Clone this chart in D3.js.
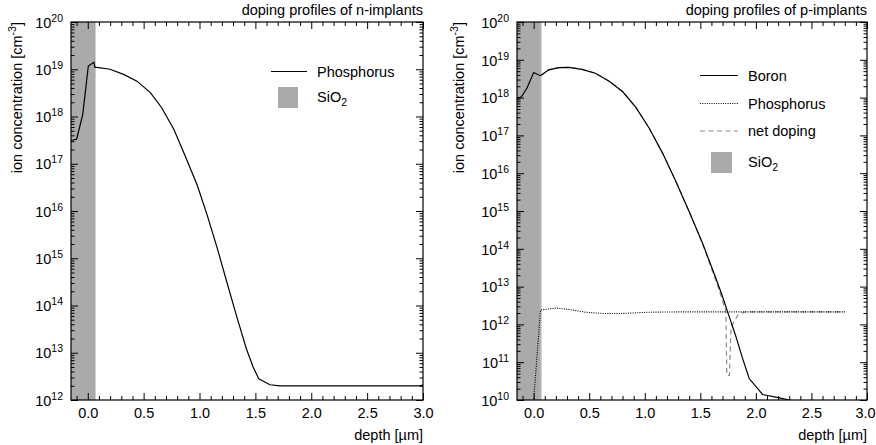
<!DOCTYPE html>
<html><head><meta charset="utf-8">
<script src="https://cdn.jsdelivr.net/npm/d3@7"></script>
<style>
body{margin:0;background:#fff;}
svg text{font-family:"Liberation Sans",Arial,Helvetica,sans-serif;fill:#000;}
</style>
</head><body>
<svg id="c" width="876" height="445"></svg>
<script>
// ---------- data ----------
const xTickValues = [0.0, 0.5, 1.0, 1.5, 2.0, 2.5, 3.0];
const xDomain = [-0.15, 3.0];
const oxideEnd = 0.065;

// n-implant panel
const nYExponents = [12, 13, 14, 15, 16, 17, 18, 19, 20];
const nDepth = [-0.15, -0.10, -0.045, 0.005, 0.055, 0.065, 0.08, 0.20, 0.32, 0.44, 0.56, 0.66, 0.77, 0.87, 0.98, 1.07, 1.16, 1.245, 1.33, 1.42, 1.48, 1.53, 1.63, 1.72, 2.0, 2.5, 2.98, 3.0];
const nPhosphorus = [3.1e17, 3.3e17, 1.1e18, 1.17e19, 1.4e19, 1.1e19, 1.1e19, 1.0e19, 7.8e18, 5.6e18, 3.2e18, 1.55e18, 5.4e17, 1.5e17, 3.5e16, 8e15, 1.6e15, 3.1e14, 6.2e13, 1.2e13, 5e12, 2.8e12, 2.1e12, 2.0e12, 2.0e12, 2.0e12, 2.0e12, 2.1e12];

// p-implant panel
const pYExponents = [10, 11, 12, 13, 14, 15, 16, 17, 18, 19, 20];
const boronDepth = [-0.15, -0.11, -0.06, 0.0, 0.06, 0.135, 0.225, 0.315, 0.435, 0.555, 0.676, 0.80, 0.92, 1.04, 1.16, 1.28, 1.40, 1.52, 1.64, 1.70, 1.76, 1.82, 1.88, 1.94, 2.06, 2.20, 2.30, 2.40];
const boron = [9.5e17, 1.05e18, 1.8e18, 4.6e18, 3.8e18, 5.4e18, 6.2e18, 6.3e18, 5.6e18, 4.4e18, 2.75e18, 1.45e18, 5.5e17, 1.55e17, 3.4e16, 6e15, 9.5e14, 1.4e14, 1.66e13, 5.4e12, 1.6e12, 4.8e11, 1.26e11, 3.7e10, 1.4e10, 1.15e10, 1.0e10, 9.0e9];
const phosDepth = [-0.005, 0.0, 0.062, 0.195, 0.315, 0.465, 0.615, 0.80, 1.04, 1.34, 1.64, 1.94, 2.3, 2.8];
const phosphorus = [7e9, 1.0e10, 2.4e12, 2.7e12, 2.5e12, 2.1e12, 1.95e12, 1.95e12, 2.1e12, 2.15e12, 2.15e12, 2.15e12, 2.15e12, 2.15e12];
const netDepth = [0.065, 0.135, 0.225, 0.315, 0.435, 0.555, 0.676, 0.80, 0.92, 1.04, 1.16, 1.28, 1.40, 1.52, 1.65, 1.73, 1.738, 1.762, 1.776, 1.84, 1.905, 2.3, 2.8];
const netDoping = [3.8e18, 5.4e18, 6.2e18, 6.3e18, 5.6e18, 4.4e18, 2.75e18, 1.45e18, 5.5e17, 1.55e17, 3.4e16, 6e15, 9.5e14, 1.35e14, 1.2e13, 2.2e12, 4.5e10, 4.5e10, 8.5e11, 1.8e12, 2.15e12, 2.15e12, 2.15e12];

// ---------- drawing ----------
const svg = d3.select('#c');
const FS = 14.5, SUP = 10.5;

function zip(a, b) { return a.map((d, i) => [d, b[i]]); }

function panel(o) {
  const g = svg.append('g');
  const x = d3.scaleLinear().domain(xDomain).range([o.left, o.right]);
  const yMin = Math.pow(10, o.exps[0]), yMax = Math.pow(10, o.exps[o.exps.length - 1]);
  const y = d3.scaleLog().domain([yMin, yMax]).range([o.bottom, o.top]);
  const clipId = 'clip' + o.id;
  svg.append('clipPath').attr('id', clipId).append('rect')
    .attr('x', o.left).attr('y', o.top).attr('width', o.right - o.left).attr('height', o.bottom - o.top);

  // oxide
  g.append('rect').attr('x', x(xDomain[0])).attr('y', o.top)
    .attr('width', x(oxideEnd) - x(xDomain[0])).attr('height', o.bottom - o.top)
    .attr('fill', '#aaaaaa');
  g.append('line').attr('x1', x(oxideEnd) + 0.5).attr('x2', x(oxideEnd) + 0.5)
    .attr('y1', o.top).attr('y2', o.bottom).attr('stroke', '#cfcfcf').attr('stroke-width', 1);

  const line = d3.line().x(d => x(d[0])).y(d => y(d[1]));
  const cg = g.append('g').attr('clip-path', `url(#${clipId})`);
  o.series.forEach(s => {
    cg.append('path').attr('d', line(zip(s.x, s.y))).attr('fill', 'none')
      .attr('stroke', s.color).attr('stroke-width', s.width)
      .attr('stroke-dasharray', s.dash || null);
  });

  // axes
  const minorX = d3.range(-1, 31).map(i => i / 10).filter(v => v >= xDomain[0] && Math.abs(v * 2 - Math.round(v * 2)) > 1e-6);
  const minorY = [];
  o.exps.slice(0, -1).forEach(e => { for (let k = 2; k <= 9; k++) minorY.push(k * Math.pow(10, e)); });
  const decades = o.exps.map(e => Math.pow(10, e));

  const ax = g.append('g');
  const fmt = d3.format('.1f');
  const xb = ax.append('g').attr('transform', `translate(0,${o.bottom})`)
    .call(d3.axisBottom(x).tickValues(xTickValues).tickSize(-7).tickPadding(8).tickFormat(fmt));
  ax.append('g').attr('transform', `translate(0,${o.bottom})`)
    .call(d3.axisBottom(x).tickValues(minorX).tickSize(-4).tickFormat(''));
  ax.append('g').attr('transform', `translate(0,${o.top})`)
    .call(d3.axisTop(x).tickValues(xTickValues).tickSize(-7).tickFormat(''));
  ax.append('g').attr('transform', `translate(0,${o.top})`)
    .call(d3.axisTop(x).tickValues(minorX).tickSize(-4).tickFormat(''));
  const yl = ax.append('g').attr('transform', `translate(${o.left},0)`)
    .call(d3.axisLeft(y).tickValues(decades).tickSize(-7).tickPadding(8).tickFormat(''));
  ax.append('g').attr('transform', `translate(${o.left},0)`)
    .call(d3.axisLeft(y).tickValues(minorY).tickSize(-3.5).tickFormat(''));
  ax.append('g').attr('transform', `translate(${o.right},0)`)
    .call(d3.axisRight(y).tickValues(decades).tickSize(-7).tickFormat(''));
  ax.append('g').attr('transform', `translate(${o.right},0)`)
    .call(d3.axisRight(y).tickValues(minorY).tickSize(-3.5).tickFormat(''));
  ax.selectAll('.domain').remove();
  ax.selectAll('.tick line').attr('stroke', '#000').attr('stroke-width', 1);
  xb.selectAll('.tick text').attr('font-size', FS).attr('font-family', null).attr('fill', '#000')
    .attr('dx', d => (d === xDomain[1] && o.right + 11 > 876) ? (876 - o.right - 11) : null);

  // y labels with superscripts
  yl.selectAll('.tick text').each(function (d) {
    const t = d3.select(this).text(null).attr('font-size', FS).attr('font-family', null)
      .attr('fill', '#000').attr('dy', '0.36em').attr('x', -8);
    t.append('tspan').text('10');
    t.append('tspan').attr('font-size', SUP).attr('dy', -6).text(Math.round(Math.log10(d)));
  });

  g.append('rect').attr('x', o.left).attr('y', o.top).attr('width', o.right - o.left)
    .attr('height', o.bottom - o.top).attr('fill', 'none').attr('stroke', '#000').attr('stroke-width', 1.2);

  // titles
  g.append('text').attr('x', o.right).attr('y', 15).attr('text-anchor', 'end')
    .attr('font-size', FS).text(o.title);
  g.append('text').attr('x', o.right).attr('y', 440).attr('text-anchor', 'end')
    .attr('font-size', FS).text('depth [µm]');
  const yt = g.append('text').attr('transform', `translate(${o.yTitleX},${o.top}) rotate(-90)`)
    .attr('text-anchor', 'end').attr('font-size', FS);
  yt.append('tspan').text('ion concentration [cm');
  yt.append('tspan').attr('font-size', SUP).attr('dy', -6).text('-3');
  yt.append('tspan').attr('font-size', FS).attr('dy', 6).text(']');

  // legend
  const lg = g.append('g');
  o.legend.forEach(l => {
    if (l.type === 'line') {
      lg.append('line').attr('x1', l.x1).attr('x2', l.x2).attr('y1', l.y).attr('y2', l.y)
        .attr('stroke', l.color).attr('stroke-width', l.width).attr('stroke-dasharray', l.dash || null);
      lg.append('text').attr('x', l.tx).attr('y', l.y).attr('dy', '0.35em').attr('font-size', FS).text(l.label);
    } else {
      lg.append('rect').attr('x', l.x1).attr('y', l.y - 10.5).attr('width', l.x2 - l.x1).attr('height', 21)
        .attr('fill', '#aaaaaa');
      const t = lg.append('text').attr('x', l.tx).attr('y', l.y).attr('dy', '0.3em').attr('font-size', FS);
      t.append('tspan').text('SiO');
      t.append('tspan').attr('font-size', SUP).attr('dy', 4).text('2');
    }
  });
}

panel({
  id: 'n', left: 71, right: 423, top: 22, bottom: 400, exps: nYExponents, yTitleX: 22,
  title: 'doping profiles of n-implants',
  series: [{ x: nDepth, y: nPhosphorus, color: '#000', width: 1.2 }],
  legend: [
    { type: 'line', x1: 271, x2: 307, y: 71.5, tx: 317, label: 'Phosphorus', color: '#000', width: 1.2 },
    { type: 'box', x1: 278, x2: 298, y: 97.5, tx: 317 }
  ]
});
panel({
  id: 'p', left: 517, right: 867, top: 22, bottom: 400, exps: pYExponents, yTitleX: 464,
  title: 'doping profiles of p-implants',
  series: [
    { x: netDepth, y: netDoping, color: '#8c8c8c', width: 1.2, dash: '5,3.5' },
    { x: boronDepth, y: boron, color: '#000', width: 1.2 },
    { x: phosDepth, y: phosphorus, color: '#000', width: 1.1, dash: '1,1.3' }
  ],
  legend: [
    { type: 'line', x1: 700, x2: 738, y: 75.5, tx: 748, label: 'Boron', color: '#000', width: 1.2 },
    { type: 'line', x1: 700, x2: 738, y: 103.5, tx: 748, label: 'Phosphorus', color: '#000', width: 1.1, dash: '1,1.3' },
    { type: 'line', x1: 700, x2: 738, y: 131, tx: 748, label: 'net doping', color: '#8c8c8c', width: 1.2, dash: '5,3.5' },
    { type: 'box', x1: 711, x2: 732, y: 162.5, tx: 748 }
  ]
});
</script>
</body></html>
